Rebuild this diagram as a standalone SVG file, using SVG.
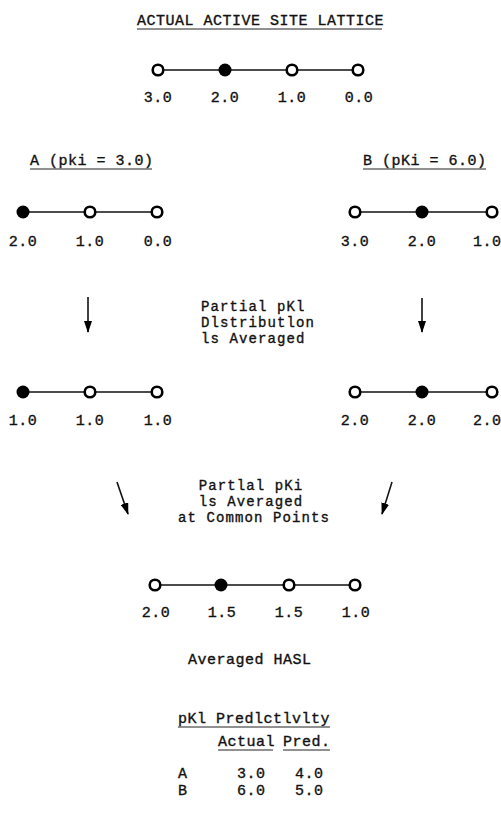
<svg xmlns="http://www.w3.org/2000/svg" width="501" height="815" viewBox="0 0 501 815">
<style>
text{font-family:"Liberation Mono","Courier New",monospace;font-size:15px;letter-spacing:0.5px;fill:#111;stroke:#111;stroke-width:0.35}
.n{font-size:14px;letter-spacing:1.1px}
.c{text-anchor:middle}
.ul{stroke:#222;stroke-width:1}
.bond{stroke:#111;stroke-width:1.6}
.open{fill:#fff;stroke:#000;stroke-width:2.6}
.full{fill:#000}
.arr{stroke:#111;stroke-width:1.6;fill:none}
</style>
<defs>
<marker id="ah" viewBox="0 0 12 8" refX="11" refY="4" markerWidth="12" markerHeight="8" markerUnits="userSpaceOnUse" orient="auto"><path d="M0,0 L12,4 L0,8 z" fill="#000"/></marker>
</defs>
<rect width="501" height="815" fill="#fff"/>

<g id="title">
<text x="137" y="25">ACTUAL ACTIVE SITE LATTICE</text>
<line class="ul" x1="137" y1="29" x2="382" y2="29"/>
</g>

<g id="lattice-actual">
<line class="bond" x1="158" y1="70" x2="358" y2="70"/>
<circle class="open" cx="158" cy="70" r="5.3"/>
<circle class="full" cx="225" cy="70" r="6.5"/>
<circle class="open" cx="292" cy="70" r="5.3"/>
<circle class="open" cx="358" cy="70" r="5.3"/>
<text class="c" x="158" y="102">3.0</text>
<text class="c" x="225" y="102">2.0</text>
<text class="c" x="292" y="102">1.0</text>
<text class="c" x="359" y="102">0.0</text>
</g>

<g id="label-a">
<text x="30" y="165">A (pki = 3.0)</text>
<line class="ul" x1="30" y1="169" x2="152" y2="169"/>
</g>
<g id="label-b">
<text x="363" y="165">B (pKi = 6.0)</text>
<line class="ul" x1="363" y1="169" x2="486" y2="169"/>
</g>

<g id="lattice-a">
<line class="bond" x1="23" y1="212" x2="157" y2="212"/>
<circle class="full" cx="23" cy="212" r="6.5"/>
<circle class="open" cx="90" cy="212" r="5.3"/>
<circle class="open" cx="157" cy="212" r="5.3"/>
<text class="c" x="23" y="246">2.0</text>
<text class="c" x="90" y="246">1.0</text>
<text class="c" x="158" y="246">0.0</text>
</g>

<g id="lattice-b">
<line class="bond" x1="355" y1="212" x2="492" y2="212"/>
<circle class="open" cx="355" cy="212" r="5.3"/>
<circle class="full" cx="422" cy="212" r="6.5"/>
<circle class="open" cx="492" cy="212" r="5.3"/>
<text class="c" x="355" y="246">3.0</text>
<text class="c" x="422" y="246">2.0</text>
<text x="473" y="246">1.0</text>
</g>

<g id="note-distribution">
<text class="n" x="201" y="311">Partial pKl<tspan x="201" y="327">Dlstributlon</tspan><tspan x="201" y="343">ls Averaged</tspan></text>
</g>

<g id="lattice-a-avg">
<line class="bond" x1="23" y1="392" x2="157" y2="392"/>
<circle class="full" cx="23" cy="392" r="6.5"/>
<circle class="open" cx="90" cy="392" r="5.3"/>
<circle class="open" cx="157" cy="392" r="5.3"/>
<text class="c" x="23" y="425">1.0</text>
<text class="c" x="90" y="425">1.0</text>
<text class="c" x="158" y="425">1.0</text>
</g>

<g id="lattice-b-avg">
<line class="bond" x1="355" y1="392" x2="492" y2="392"/>
<circle class="open" cx="355" cy="392" r="5.3"/>
<circle class="full" cx="422" cy="392" r="6.5"/>
<circle class="open" cx="492" cy="392" r="5.3"/>
<text class="c" x="355" y="425">2.0</text>
<text class="c" x="422" y="425">2.0</text>
<text x="473" y="425">2.0</text>
</g>

<g id="note-common">
<text class="n c" x="251" y="490">Partlal pKi<tspan x="251" y="506">ls Averaged</tspan><tspan x="254" y="522">at Common Points</tspan></text>
</g>

<g id="lattice-hasl">
<line class="bond" x1="155" y1="585" x2="355" y2="585"/>
<circle class="open" cx="155" cy="585" r="5.3"/>
<circle class="full" cx="221" cy="585" r="6.5"/>
<circle class="open" cx="289" cy="585" r="5.3"/>
<circle class="open" cx="355" cy="585" r="5.3"/>
<text class="c" x="156" y="617">2.0</text>
<text class="c" x="222" y="617">1.5</text>
<text class="c" x="289" y="617">1.5</text>
<text class="c" x="356" y="617">1.0</text>
</g>

<g id="label-hasl">
<text x="188" y="664">Averaged HASL</text>
</g>

<g id="table">
<text x="178" y="723">pKl Predlctlvlty</text>
<line class="ul" x1="178" y1="727" x2="330" y2="727"/>
<text x="218" y="746">Actual</text>
<line class="ul" x1="218" y1="750" x2="273" y2="750"/>
<text x="283" y="746">Pred.</text>
<line class="ul" x1="283" y1="750" x2="330" y2="750"/>
<text x="178" y="778">A</text>
<text x="237" y="778">3.0</text>
<text x="295" y="778">4.0</text>
<text x="178" y="795">B</text>
<text x="237" y="795">6.0</text>
<text x="295" y="795">5.0</text>
</g>

<g id="connectors">
<line class="arr" x1="88" y1="297" x2="88" y2="332" marker-end="url(#ah)"/>
<line class="arr" x1="422" y1="298" x2="422" y2="332" marker-end="url(#ah)"/>
<line class="arr" x1="117" y1="482" x2="128" y2="514" marker-end="url(#ah)"/>
<line class="arr" x1="392" y1="482" x2="382" y2="514" marker-end="url(#ah)"/>
</g>
</svg>
